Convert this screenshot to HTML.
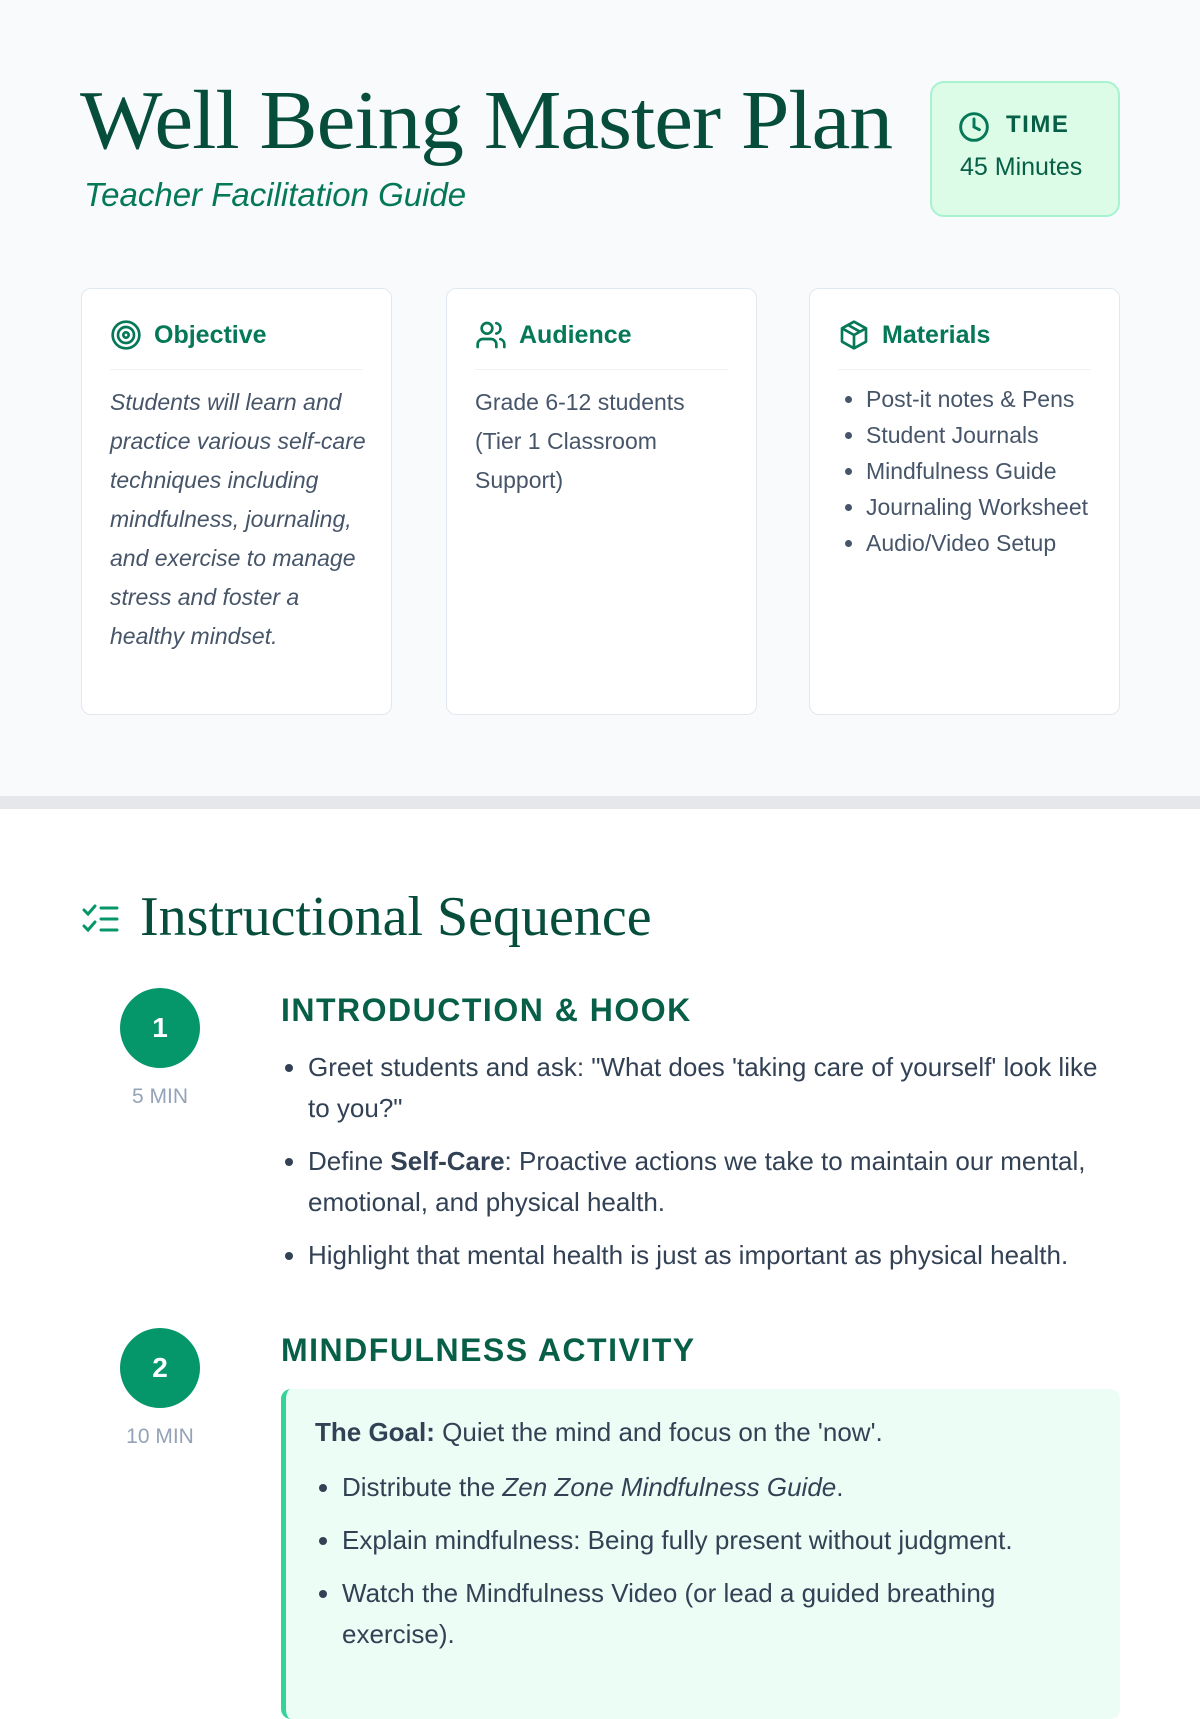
<!DOCTYPE html>
<html><head><meta charset="utf-8"><style>
*{margin:0;padding:0;box-sizing:border-box}
body{width:1200px;height:1600px;overflow:hidden;background:#fff;font-family:"Liberation Sans",sans-serif;color:#374151;position:relative}
.top{position:absolute;left:0;top:0;width:1200px;height:796px;background:#f8fafc}
.band{position:absolute;left:0;top:796px;width:1200px;height:13px;background:#e5e7eb}
.abs{position:absolute}
h1{position:absolute;left:80px;top:72px;font-family:"Liberation Serif",serif;font-weight:400;font-size:84px;color:#064e3b;letter-spacing:-1px;white-space:nowrap;transform:scaleX(1.04);transform-origin:left}
.sub{left:84px;top:176px;font-style:italic;font-size:33px;color:#047857}
.time{left:930px;top:81px;width:190px;height:136px;background:#dcfce7;border:2px solid #a7f3d0;border-radius:14px}
.card{top:288px;height:427px;background:#fff;border:1.5px solid #e2e8f0;border-radius:10px;width:311px}
.ch{position:absolute;left:28px;top:30px;font-weight:700;font-size:25px;color:#047857;display:flex;align-items:center;gap:12px}
.div{position:absolute;left:28px;right:28px;top:80px;border-top:1px solid #eef2f5}
.cb{position:absolute;left:28px;right:24px;top:94px;font-size:23px;line-height:39px;color:#475569}
.cb ul{list-style:disc;padding-left:28px;line-height:36px}
.step{width:80px;height:80px;border-radius:50%;background:#059669;color:#fff;font-weight:700;font-size:28px;display:flex;align-items:center;justify-content:center}
.min{font-size:21px;color:#94a3b8;width:120px;text-align:center}
.sh{font-weight:700;font-size:32px;color:#065f46;letter-spacing:1.5px}
ul.b{list-style:disc;padding-left:27px;font-size:26px;line-height:41px;color:#334155}
ul.b li{margin-bottom:12px}
</style></head><body>
<div class="top"></div><div class="band"></div>
<h1>Well Being Master Plan</h1>
<div class="abs sub">Teacher Facilitation Guide</div>
<div class="abs time">
 <svg class="abs" style="left:26px;top:28px" width="32" height="32" viewBox="0 0 24 24" fill="none" stroke="#047857" stroke-width="2.2" stroke-linecap="round"><circle cx="12" cy="12" r="10"/><path d="M12 6v6l4 2"/></svg>
 <div class="abs" style="left:74px;top:28px;font-weight:700;font-size:24px;letter-spacing:1.5px;color:#065f46">TIME</div>
 <div class="abs" style="left:28px;top:70px;font-size:25px;color:#065f46">45 Minutes</div>
</div>

<div class="abs card" style="left:81px">
 <div class="ch"><svg width="32" height="32" viewBox="0 0 24 24" fill="none" stroke="#047857" stroke-width="2"><circle cx="12" cy="12" r="10"/><circle cx="12" cy="12" r="6"/><circle cx="12" cy="12" r="2"/></svg>Objective</div>
 <div class="div"></div>
 <div class="cb" style="font-style:italic">Students will learn and practice various self-care techniques including mindfulness, journaling, and exercise to manage stress and foster a healthy mindset.</div>
</div>
<div class="abs card" style="left:446px">
 <div class="ch"><svg width="32" height="32" viewBox="0 0 24 24" fill="none" stroke="#047857" stroke-width="2" stroke-linecap="round"><circle cx="9" cy="7" r="4"/><path d="M2 21v-2a4 4 0 0 1 4-4h6a4 4 0 0 1 4 4v2"/><path d="M16 3.1a4 4 0 0 1 0 7.8M22 21v-2a4 4 0 0 0-3-3.9"/></svg>Audience</div>
 <div class="div"></div>
 <div class="cb">Grade 6-12 students (Tier 1 Classroom Support)</div>
</div>
<div class="abs card" style="left:809px">
 <div class="ch"><svg width="32" height="32" viewBox="0 0 24 24" fill="none" stroke="#047857" stroke-width="2" stroke-linejoin="round"><path d="M12 2l9 5v10l-9 5-9-5V7z"/><path d="M3 7l9 5 9-5M12 12v10M7.5 4.5l9 5"/></svg>Materials</div>
 <div class="div"></div>
 <div class="cb" style="top:92px;right:10px"><ul><li>Post-it notes &amp; Pens</li><li>Student Journals</li><li>Mindfulness Guide</li><li>Journaling Worksheet</li><li>Audio/Video Setup</li></ul></div>
</div>

<svg class="abs" style="left:82px;top:902px" width="38" height="34" viewBox="0 0 38 34" fill="none" stroke="#059669" stroke-width="3" stroke-linecap="round"><path d="M2 8l4 4 7-8M2 24l4 4 7-8M19 6h16M19 17h16M19 28h16"/></svg>
<div class="abs" style="left:140px;top:885px;font-family:'Liberation Serif',serif;font-size:56px;color:#064e3b;white-space:nowrap">Instructional Sequence</div>

<div class="abs step" style="left:120px;top:988px">1</div>
<div class="abs min" style="left:100px;top:1085px">5 MIN</div>
<div class="abs sh" style="left:281px;top:992px">INTRODUCTION &amp; HOOK</div>
<ul class="abs b" style="left:281px;top:1047px;width:840px">
 <li>Greet students and ask: "What does 'taking care of yourself' look like to you?"</li>
 <li>Define <b>Self-Care</b>: Proactive actions we take to maintain our mental, emotional, and physical health.</li>
 <li>Highlight that mental health is just as important as physical health.</li>
</ul>

<div class="abs step" style="left:120px;top:1328px">2</div>
<div class="abs min" style="left:100px;top:1425px">10 MIN</div>
<div class="abs sh" style="left:281px;top:1332px">MINDFULNESS ACTIVITY</div>
<div class="abs" style="left:281px;top:1389px;width:839px;height:330px;background:#ecfdf5;border-left:5px solid #34d399;border-radius:10px">
 <div class="abs" style="left:29px;top:28px;font-size:26px;color:#334155"><b>The Goal:</b> Quiet the mind and focus on the 'now'.</div>
 <ul class="abs b" style="left:29px;top:78px;width:790px">
  <li>Distribute the <i>Zen Zone Mindfulness Guide</i>.</li>
  <li>Explain mindfulness: Being fully present without judgment.</li>
  <li>Watch the Mindfulness Video (or lead a guided breathing exercise).</li>
 </ul>
</div>
</body></html>
